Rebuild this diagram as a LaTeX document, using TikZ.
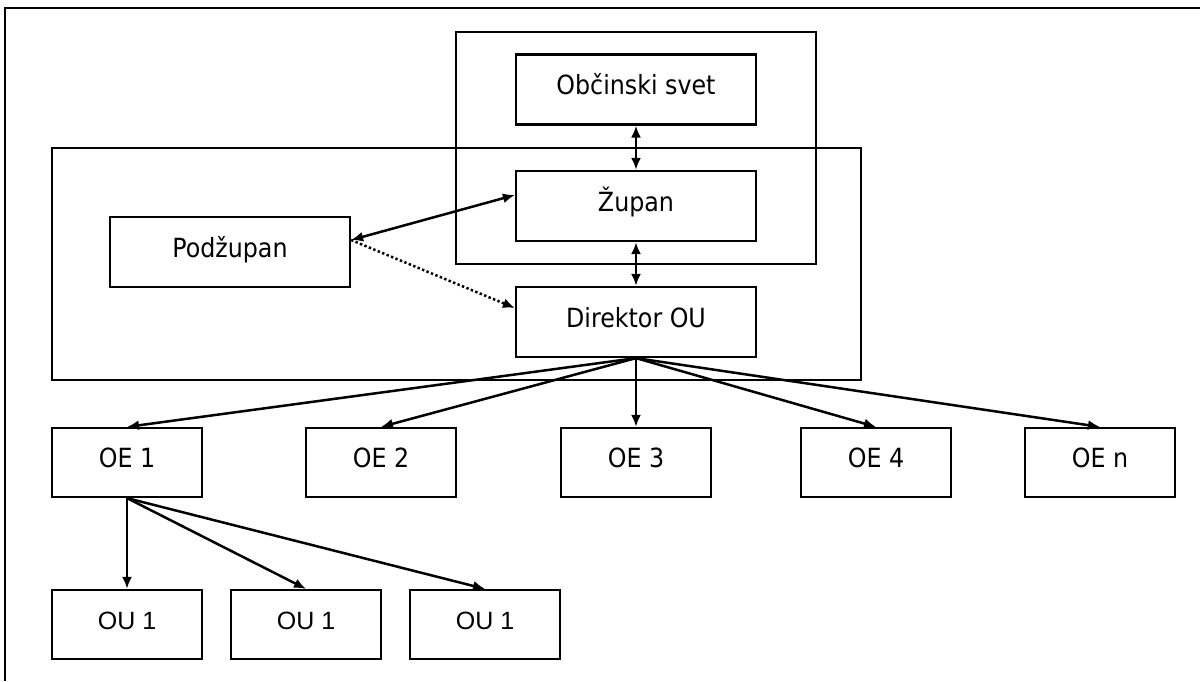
\documentclass[tikz,border=0pt]{standalone}
\usepackage{fontspec}
\setmainfont{DejaVu Sans Condensed}
\newfontfamily\ousans{Liberation Sans}
\usetikzlibrary{arrows.meta}
\tikzset{
box/.style={draw,line width=1.1pt,inner sep=0pt,minimum width=120pt,minimum height=35pt,
  text height=9pt,text depth=4pt,font=\fontsize{13.2}{15}\selectfont},
oebox/.style={box,minimum width=75pt,minimum height=34.5pt},
group/.style={draw,line width=.75pt},
link/.style={line width=1.25pt,>={Latex[length=6pt,width=5pt]}},
dotline/.style={dash pattern=on 1.2pt off 1.2pt}
}
\begin{document}
\begin{tikzpicture}[x=.5pt,y=-.5pt]
\useasboundingbox (0,0) rectangle (1200,681);
\draw[group] (5,681)--(5,8)--(1200,8);
\draw[group] (456,32) rectangle (816,264);
\draw[group] (52,148) rectangle (861,380);
\node[box] (svet) at (636,89.5) {Občinski svet};
\node[box] (zupan) at (636,206) {Župan};
\node[box] (podzupan) at (230,252) {Podžupan};
\node[box] (dir) at (636,322) {Direktor OU};
\foreach \x/\t [count=\i] in {127/1,381/2,636/3,876/4,1100/n}
  \node[oebox] (oe\i) at (\x,462.5) {OE \t};
\foreach \x [count=\i] in {127,306,485}
  \node[oebox,font=\ousans\fontsize{12.5}{15}\selectfont] (ou\i) at (\x,624.5) {OU 1};
\draw[link,<->] (svet)--(zupan);
\draw[link,<->] (zupan)--(dir);
\coordinate (p) at ([yshift=6pt]podzupan.east);
\draw[link,<->] (p)--([yshift=5.5pt]zupan.west);
\draw[link,->,dotline] (p)--([yshift=7pt]dir.west);
\foreach \i in {1,...,5}\draw[link,->] (dir.south)--(oe\i.north);
\foreach \i in {1,2,3}\draw[link,->] (oe1.south)--(ou\i.north);
\end{tikzpicture}
\end{document}
